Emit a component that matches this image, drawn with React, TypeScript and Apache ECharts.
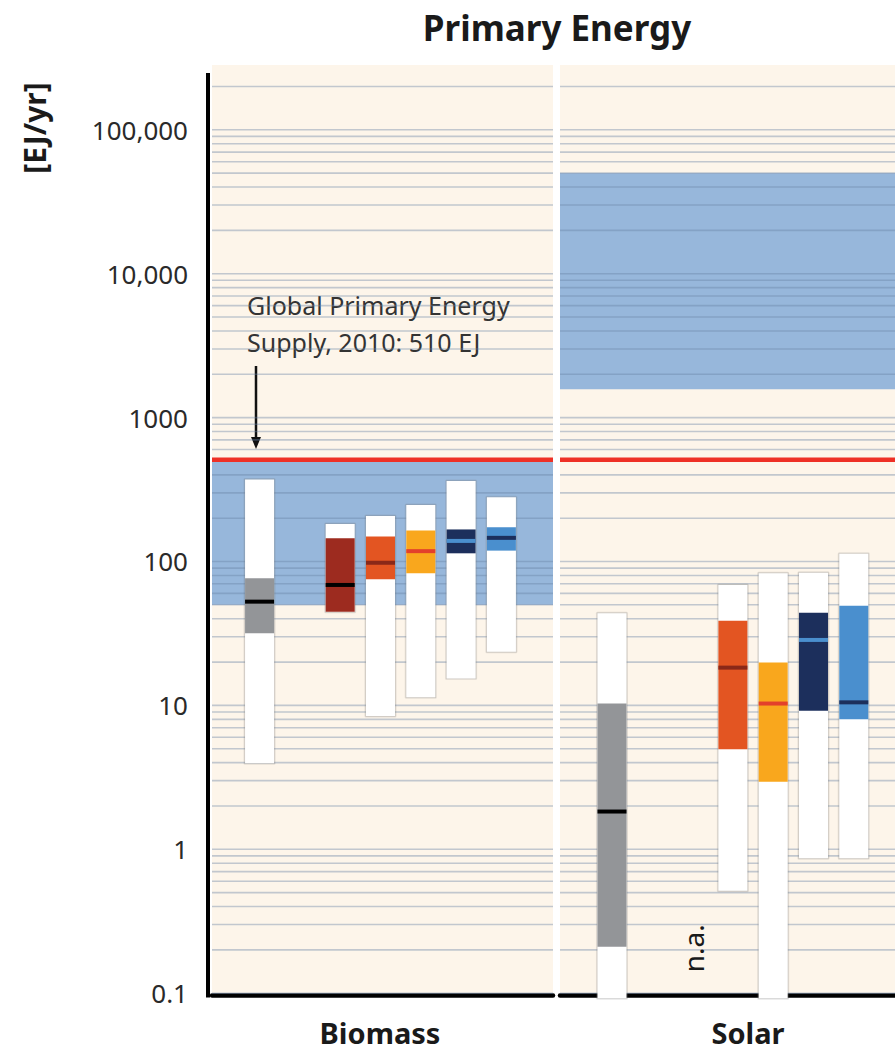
import React, { useEffect, useRef } from "react";
import * as echarts from "echarts";

// ---- data -------------------------------------------------------------
const Y_MIN = 0.1;
const Y_MAX = 282000;

const panelNames = ["Biomass", "Solar"];

// technical potential range per panel [low, high], EJ/yr
const potentialLow = [50, 1575];
const potentialHigh = [500, 49837];

// global primary energy supply 2010, EJ
const globalSupply2010 = 510;

// scenario groups (index 1 is an empty spacer column)
const scenarioFill = ["#939598", "", "#9D2B1F", "#E35522", "#F9A71D", "#1C2F5C", "#4A8FCE"];
const scenarioMedian = ["#000000", "", "#000000", "#8A2818", "#E3402B", "#4A8FCE", "#1C2F5C"];

// [scenario, min, 25th, median, 75th, max]  (EJ/yr)
const biomassRanges = [
  [0, 3.96, 31.7, 52.6, 76.4, 372],
  [2, 44.8, 44.8, 68.7, 145, 182],
  [3, 8.44, 75.2, 98, 149, 207],
  [4, 11.4, 82.8, 118, 164, 247],
  [5, 15.4, 114, 139, 167, 363],
  [6, 23.6, 119, 146, 173, 279],
];
// a minimum of 0.05 means the range continues below the axis floor
const solarRanges = [
  [0, 0.05, 0.21, 1.83, 10.3, 43.7],
  [3, 0.515, 4.95, 18.3, 38.8, 68.7],
  [4, 0.05, 2.95, 10.3, 19.9, 82.8],
  [5, 0.866, 9.19, 28.5, 44.1, 83.6],
  [6, 0.866, 8.0, 10.5, 49.3, 113],
];
const solarNotAvailable = [2];

const panelRanges = [biomassRanges, solarRanges];
const panelNotAvailable: number[][] = [[], solarNotAvailable];

// log-axis reference lines: 1..9 x 10^k
const decades = [-1, 0, 1, 2, 3, 4, 5];
const mantissas = [1, 2, 3, 4, 5, 6, 7, 8, 9];

// ---- styling ----------------------------------------------------------
const FONT = '"Noto Sans", sans-serif';
const CREAM = "#FDF5EA";
const BAND = "#97B7DB";
const GRIDLINE = "rgba(105,130,165,0.40)";
const RED = "#EE3026";
const BAR_HALF = 0.36;

const gridLeft = [212, 560];
const gridWidth = [341, 376];
const slotMin = [-1.18, -1.29];
const slotMax = [7.28, 8.04];
// centre of each panel's category label (the Solar panel runs past the right edge)
const panelLabelX = [380, 748];

const gridValues: number[] = [];
decades.forEach((d) =>
  mantissas.forEach((m) => {
    const v = m * Math.pow(10, d);
    if (v <= Y_MAX) gridValues.push(v);
  })
);

function formatTick(v: number): string {
  const l = Math.log10(v);
  if (Math.abs(l - Math.round(l)) > 1e-6) return "";
  if (v < 1) return String(Number(v.toFixed(1)));
  const s = String(Math.round(v));
  return v >= 10000 ? s.replace(/\B(?=(\d{3})+(?!\d))/g, ",") : s;
}

function buildOption(): any {
  const grid: any[] = [];
  const xAxis: any[] = [];
  const yAxis: any[] = [];
  const series: any[] = [];

  panelNames.forEach((name, p) => {
    grid.push({
      left: gridLeft[p],
      width: gridWidth[p],
      top: 65,
      bottom: 59.8,
      outerBoundsMode: "none",
      containLabel: false,
      show: true,
      backgroundColor: CREAM,
      borderWidth: 0,
    });
    xAxis.push({
      type: "value",
      gridIndex: p,
      min: slotMin[p],
      max: slotMax[p],
      offset: 2,
      axisLine: { show: true, onZero: false, lineStyle: { color: "#000", width: 4.5 } },
      axisTick: { show: false },
      axisLabel: { show: false },
      splitLine: { show: false },
    });
    yAxis.push({
      type: "log",
      logBase: 10,
      gridIndex: p,
      min: Y_MIN,
      max: Y_MAX,
      offset: p === 0 ? 4 : 0,
      axisLine: { show: false },
      axisTick: { show: false },
      splitLine: { show: false },
      axisLabel: {
        show: p === 0,
        formatter: formatTick,
        fontFamily: FONT,
        fontSize: 26,
        color: "#2a2a2a",
        margin: 20,
        padding: [12, 0, 0, 0],
        showMaxLabel: false,
      },
    });

    // technical potential band
    series.push({
      type: "custom",
      xAxisIndex: p,
      yAxisIndex: p,
      z: 1,
      silent: true,
      data: [[potentialLow[p], potentialHigh[p]]],
      encode: { y: [0, 1] },
      renderItem: (params: any, api: any) => {
        const cs = params.coordSys;
        const yLo = api.coord([0, api.value(0)])[1];
        const yHi = api.coord([0, api.value(1)])[1];
        return {
          type: "rect",
          shape: { x: cs.x, y: yHi, width: cs.width, height: yLo - yHi },
          style: { fill: BAND },
        };
      },
    });

    // horizontal log reference lines
    series.push({
      type: "custom",
      xAxisIndex: p,
      yAxisIndex: p,
      z: 2,
      silent: true,
      data: gridValues.map((v) => [v]),
      encode: { y: 0 },
      renderItem: (params: any, api: any) => {
        const cs = params.coordSys;
        const y = api.coord([0, api.value(0)])[1];
        return {
          type: "line",
          shape: { x1: cs.x, y1: y, x2: cs.x + cs.width, y2: y },
          style: { stroke: GRIDLINE, lineWidth: 1.6 },
        };
      },
    });

    // scenario ranges
    series.push({
      type: "custom",
      xAxisIndex: p,
      yAxisIndex: p,
      z: 3,
      silent: true,
      data: panelRanges[p],
      encode: { x: 0, y: [1, 2, 3, 4, 5] },
      renderItem: (params: any, api: any) => {
        const s = api.value(0);
        const vMin = api.value(1);
        const q1 = api.value(2);
        const med = api.value(3);
        const q3 = api.value(4);
        const vMax = api.value(5);
        const xL = api.coord([s - BAR_HALF, vMax])[0];
        const xR = api.coord([s + BAR_HALF, vMax])[0];
        const w = xR - xL;
        const floor = api.coord([s, Y_MIN])[1];
        const yTop = api.coord([s, vMax])[1];
        const yBot = vMin < Y_MIN ? floor + 5 : api.coord([s, vMin])[1];
        const yQ3 = api.coord([s, q3])[1];
        const yQ1 = api.coord([s, q1])[1];
        const yMed = api.coord([s, med])[1];
        return {
          type: "group",
          children: [
            // soft halo around the column
            {
              type: "rect",
              shape: { x: xL - 1.5, y: yTop - 1.5, width: w + 3, height: yBot - yTop + 3, r: 1.5 },
              style: { fill: "rgba(120,120,120,0.18)" },
            },
            {
              type: "rect",
              shape: { x: xL - 0.7, y: yTop - 0.7, width: w + 1.4, height: yBot - yTop + 1.4 },
              style: { fill: "rgba(120,120,120,0.22)" },
            },
            {
              type: "rect",
              shape: { x: xL, y: yTop, width: w, height: yBot - yTop },
              style: { fill: "#ffffff" },
            },
            {
              type: "rect",
              shape: { x: xL, y: yQ3, width: w, height: yQ1 - yQ3 },
              style: { fill: scenarioFill[s] },
            },
            {
              type: "rect",
              shape: { x: xL, y: yMed - 2, width: w, height: 4 },
              style: { fill: scenarioMedian[s] },
            },
          ],
        };
      },
    });

    // scenario columns without data
    if (panelNotAvailable[p].length) {
      series.push({
        type: "custom",
        xAxisIndex: p,
        yAxisIndex: p,
        z: 3,
        silent: true,
        data: panelNotAvailable[p].map((s) => [s]),
        encode: { x: 0 },
        renderItem: (params: any, api: any) => {
          const pt = api.coord([api.value(0), Y_MIN]);
          return {
            type: "text",
            x: pt[0],
            y: pt[1] - 45,
            rotation: Math.PI / 2,
            style: {
              text: "n.a.",
              font: `28px ${FONT}`,
              fill: "#1a1a1a",
              align: "center",
              verticalAlign: "middle",
              textAlign: "center",
              textVerticalAlign: "middle",
            },
          };
        },
      });
    }

    // 2010 global primary energy supply
    series.push({
      type: "custom",
      xAxisIndex: p,
      yAxisIndex: p,
      z: 4,
      silent: true,
      data: [[globalSupply2010]],
      encode: { y: 0 },
      renderItem: (params: any, api: any) => {
        const cs = params.coordSys;
        const y = api.coord([0, api.value(0)])[1];
        return {
          type: "line",
          shape: { x1: cs.x, y1: y, x2: cs.x + cs.width, y2: y },
          style: { stroke: RED, lineWidth: 4.5 },
        };
      },
    });
  });

  const txt = (text: string, x: number, y: number, font: string, extra: any = {}) => ({
    type: "text",
    x,
    y,
    silent: true,
    rotation: extra.rotation || 0,
    style: {
      text,
      font,
      fill: extra.fill || "#1a1a1a",
      align: extra.align || "center",
      textAlign: extra.align || "center",
      verticalAlign: "middle",
      textVerticalAlign: "middle",
    },
  });

  return {
    animation: false,
    backgroundColor: "#ffffff",
    grid,
    xAxis,
    yAxis,
    series,
    graphic: [
      txt("Primary Energy", 557, 27, `bold 35px ${FONT}`),
      txt("[EJ/yr]", 34, 128, `bold 30px ${FONT}`, { rotation: Math.PI / 2 }),
      ...panelNames.map((n, p) => txt(n, panelLabelX[p], 1032, `bold 29px ${FONT}`)),
      txt("Global Primary Energy", 247, 305, `25px ${FONT}`, { align: "left", fill: "#333" }),
      txt("Supply, 2010: 510 EJ", 247, 342, `25px ${FONT}`, { align: "left", fill: "#333" }),
      // left value axis spine
      {
        type: "line",
        silent: true,
        shape: { x1: 208, y1: 73, x2: 208, y2: 997.5 },
        style: { stroke: "#000", lineWidth: 4 },
      },
      {
        type: "line",
        silent: true,
        shape: { x1: 256, y1: 366, x2: 256, y2: 440 },
        style: { stroke: "#111", lineWidth: 2.5 },
      },
      {
        type: "polygon",
        silent: true,
        shape: { points: [[251, 437], [261, 437], [256, 449]] },
        style: { fill: "#111" },
      },
    ],
  };
}

export default function App() {
  const ref = useRef<HTMLDivElement>(null);
  useEffect(() => {
    if (!ref.current) return;
    const chart = echarts.init(ref.current, null, { renderer: "svg" });
    chart.setOption(buildOption());
    return () => chart.dispose();
  }, []);
  return (
    <div
      ref={ref}
      style={{ position: "absolute", left: 0, top: 0, width: 895, height: 1053 }}
    />
  );
}
